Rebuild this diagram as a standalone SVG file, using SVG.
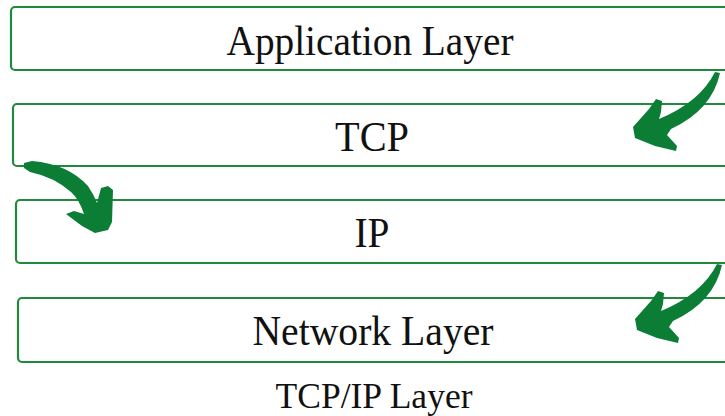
<svg xmlns="http://www.w3.org/2000/svg" width="725" height="416" viewBox="0 0 725 416">
<style>
.box{fill:#fff;stroke:#1f8a3c;stroke-width:2.2}
.lbl{font-family:"Liberation Serif","Times New Roman",serif;font-size:43px;fill:#111;text-anchor:middle}
.cap{font-family:"Liberation Serif","Times New Roman",serif;font-size:36px;fill:#111;text-anchor:middle}
.arr{fill:#0b7d35}
</style>
<defs>
<path id="curl" class="arr" d="M715 72 L720 73 Q712 110 671 129 L667 135 L677 146 L676 151 L655 146 L635 138 L633 127 L649 109 L656 99 L662 101 L661 112 L659 119 Q700 102 715 72 Z"/>
</defs>
<rect width="725" height="416" fill="#fff"/>
<g id="app"><rect class="box" x="11" y="7" width="730" height="63" rx="4"/><text class="lbl" x="370" y="55" textLength="287" lengthAdjust="spacingAndGlyphs">Application Layer</text></g>
<g id="tcp"><rect class="box" x="13" y="104" width="730" height="62" rx="4"/><text class="lbl" x="372" y="151" textLength="74" lengthAdjust="spacingAndGlyphs">TCP</text></g>
<g id="ip"><rect class="box" x="16" y="200" width="730" height="63" rx="4"/><text class="lbl" x="372" y="247" textLength="35" lengthAdjust="spacingAndGlyphs">IP</text></g>
<g id="net"><rect class="box" x="18" y="298" width="730" height="64" rx="4"/><text class="lbl" x="373" y="345" textLength="241" lengthAdjust="spacingAndGlyphs">Network Layer</text></g>
<text class="cap" x="374" y="408" textLength="197" lengthAdjust="spacingAndGlyphs">TCP/IP Layer</text>
<g id="connectors">
<use id="a1" href="#curl"/>
<use id="a3" href="#curl" transform="translate(2,192)"/>
<path id="a2" class="arr" d="M24 163 L32 161 Q68 164 88 186 Q94 195 97 203 L101 188 L108 186 L113 190 L112 222 L108 230 L95 233 L82 226 L66 214 L74 211 L84 214 Q79 199 71 192 Q54 177 30 172 L24 168 Z"/>
</g>
</svg>
